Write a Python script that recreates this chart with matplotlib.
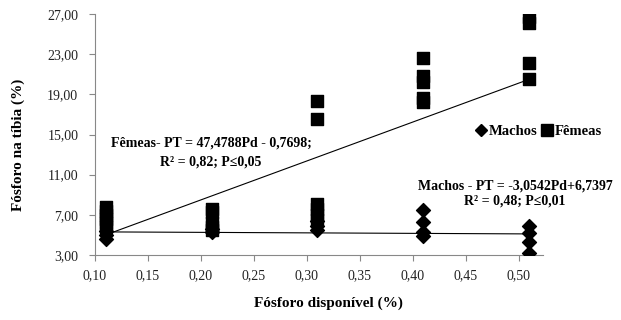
import matplotlib
matplotlib.use("Agg")
import matplotlib.pyplot as plt
from matplotlib.lines import Line2D

plt.rcParams['font.family'] = ['Liberation Serif', 'DejaVu Serif']

# Fêmeas (squares)
femeas_x = [0.11] * 6 + [0.21] * 5 + [0.31] * 6 + [0.41] * 5 + [0.51] * 4
femeas_y = [7.8, 7.4, 7.0, 6.6, 6.2, 5.8,
            7.6, 7.3, 6.2, 5.8, 5.5,
            18.3, 16.5, 8.1, 7.6, 7.0, 6.5,
            22.6, 20.8, 20.2, 18.6, 18.2,
            26.7, 26.1, 22.1, 20.5]

# Machos (diamonds)
machos_x = [0.11] * 3 + [0.21] * 2 + [0.31] * 3 + [0.41] * 4 + [0.51] * 4
machos_y = [4.6, 5.0, 5.4,
            5.3, 5.6,
            6.4, 5.9, 5.5,
            7.5, 6.3, 5.3, 4.9,
            5.9, 5.2, 4.3, 3.2]

# trend lines, as drawn
trend_x = [0.11, 0.51]
femeas_trend = [5.0, 20.5]
machos_trend = [5.3, 5.1]

yticks = [3, 7, 11, 15, 19, 23, 27]
xticks = [0.10, 0.15, 0.20, 0.25, 0.30, 0.35, 0.40, 0.45, 0.50]

fig = plt.figure(figsize=(6.21, 3.2), dpi=100)
ax = fig.add_axes([95 / 621, 1 - 255 / 320, 448 / 621, 241 / 320])

ax.plot(trend_x, femeas_trend, color='black', lw=0.8, zorder=2)
ax.plot(trend_x, machos_trend, color='black', lw=0.8, zorder=2)
ax.scatter(machos_x, machos_y, marker='D', s=50, color='black', zorder=3)
ax.scatter(femeas_x, femeas_y, marker='s', s=70, color='black', zorder=4)

ax.set_xlim(0.10, 0.523)
ax.set_ylim(3, 27)
ax.set_xticks(xticks)
ax.set_xticklabels(['{:.2f}'.format(t).replace('.', ',') for t in xticks])
ax.set_yticks(yticks)
ax.set_yticklabels(['{:.2f}'.format(t).replace('.', ',') for t in yticks])

for side in ['top', 'right']:
    ax.spines[side].set_visible(False)
for side in ['left', 'bottom']:
    ax.spines[side].set_color('#888888')
    ax.spines[side].set_linewidth(0.8)
ax.tick_params(direction='out', length=4, width=0.8, color='#888888',
               labelsize=10, labelcolor='#222222')
ax.tick_params(axis='x', pad=6)
ax.tick_params(axis='y', pad=8)

fig.text(18 / 621, 1 - 145 / 320, 'Fósforo na tíbia (%)', rotation=90,
         ha='center', va='center', fontsize=11, fontweight='bold')
fig.text(328 / 621, 1 - 303 / 320, 'Fósforo disponível (%)',
         ha='center', va='center', fontsize=11, fontweight='bold')

eq = dict(ha='center', va='center', fontsize=10, fontweight='bold')
fig.text(211 / 621, 1 - 143 / 320, 'Fêmeas- PT = 47,4788Pd - 0,7698;', **eq)
fig.text(211 / 621, 1 - 162 / 320, 'R² = 0,82; P≤0,05', **eq)
fig.text(515 / 621, 1 - 186 / 320, 'Machos - PT = -3,0542Pd+6,7397', **eq)
fig.text(515 / 621, 1 - 201 / 320, 'R² = 0,48; P≤0,01', **eq)

handles = [Line2D([], [], marker='D', color='black', ls='', markersize=6),
           Line2D([], [], marker='s', color='black', ls='', markersize=8)]
fig.legend(handles, ['Machos', 'Fêmeas'], loc='center', ncol=2,
           bbox_to_anchor=(538 / 621, 1 - 131 / 320), frameon=False,
           handletextpad=0.0, columnspacing=0.2, handlelength=1.0,
           prop={'family': 'Liberation Serif', 'size': 10.5, 'weight': 'bold'})

fig.savefig('out.png', dpi=100)
